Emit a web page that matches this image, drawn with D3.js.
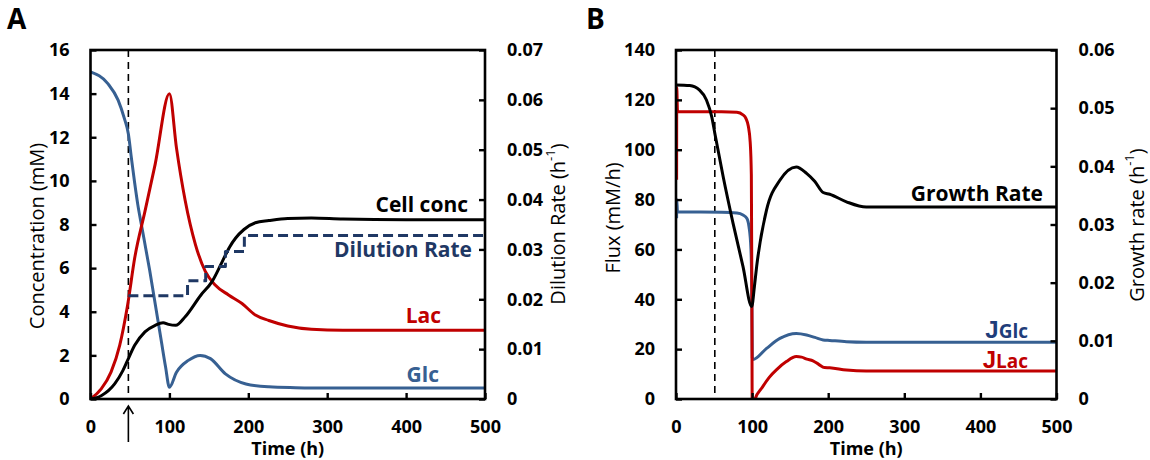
<!DOCTYPE html>
<html><head><meta charset="utf-8">
<script src="https://cdn.jsdelivr.net/npm/d3@7"></script>
<style>
body{margin:0;background:#fff}
svg{display:block}
text{font-family:'Open Sans',sans-serif}
</style>
</head><body>
<svg id="c" width="1150" height="460"></svg>
<script>
// ---------------- data ----------------
const timeTicks = [0, 100, 200, 300, 400, 500];
const concTicks = [0, 2, 4, 6, 8, 10, 12, 14, 16];
const dilTicks = [0, 0.01, 0.02, 0.03, 0.04, 0.05, 0.06, 0.07];
const fluxTicks = [0, 20, 40, 60, 80, 100, 120, 140];
const growthTicks = [0, 0.01, 0.02, 0.03, 0.04, 0.05, 0.06];

// Panel A (concentrations, mM)
const glcT = [0, 22, 35, 43, 48, 52, 56, 60, 65, 70, 75, 80, 85, 90, 95, 100, 109, 124, 139, 152, 171, 197, 226, 260, 300, 400, 500];
const glcV = [15.0, 14.46, 13.7, 12.85, 12.15, 11.0, 9.9, 8.9, 7.9, 6.9, 5.9, 4.8, 3.7, 2.6, 1.5, 0.54, 1.23, 1.77, 2.0, 1.85, 1.15, 0.69, 0.56, 0.52, 0.5, 0.5, 0.5];
const lacT = [0, 13.6, 26, 37, 47, 56, 69, 82, 100, 109, 120, 133, 145.5, 158, 175, 192, 209, 226, 250, 280, 320, 400, 500];
const lacV = [0, 0.46, 1.23, 2.46, 4.3, 6.46, 8.6, 10.77, 14.0, 11.5, 9.1, 7.08, 5.85, 5.23, 4.77, 4.38, 3.85, 3.6, 3.35, 3.2, 3.15, 3.15, 3.15];
const cellT = [0, 13.6, 30.6, 41, 47, 56, 69, 82, 92, 99, 108, 120, 140, 154, 167, 176, 184, 194.5, 209, 226, 250, 280, 320, 400, 500];
const cellV = [0, 0.15, 0.69, 1.3, 1.77, 2.46, 3.08, 3.38, 3.5, 3.42, 3.38, 3.77, 4.77, 5.38, 6.3, 6.95, 7.38, 7.77, 8.08, 8.18, 8.28, 8.3, 8.25, 8.22, 8.22];
// Dilution rate (h^-1), step changes
const dilT = [48, 123, 146, 171, 195, 500];
const dilV = [0.0207, 0.0237, 0.0266, 0.0296, 0.0328, 0.0328];
const feedStartA = 48;

// Panel B (fluxes, mM/h; growth rate h^-1)
const jglcT = [0.8, 1.0, 2.0, 20, 60, 80, 88, 93, 96, 98.5, 99.7, 100.3, 101, 119, 136.5, 158, 171.6, 182.5, 193.4, 202, 224, 250, 300, 500];
const jglcV = [72.5, 80, 75, 75, 74.9, 74.6, 73.8, 72.5, 69, 60, 40, 16.5, 15.8, 20.3, 24.3, 26.3, 25.7, 24.7, 23.7, 23.5, 23.0, 22.8, 22.8, 22.8];
const jlacT = [0.8, 1.0, 2.0, 20, 60, 80, 88, 92, 95, 97.5, 99, 99.7, 100.2, 104, 113, 122, 133, 145, 158, 165, 172, 180, 188, 195, 202, 224, 250, 300, 500];
const jlacV = [88, 125, 115.2, 115.2, 115.2, 115, 114, 112.5, 109.5, 103, 90, 40, -8, 0, 4.5, 8.5, 12.0, 15.0, 17.0, 16.8, 16.0, 15.3, 13.8, 12.6, 12.5, 11.6, 11.2, 11.2, 11.2];
const grT = [0, 18, 31, 40, 47, 51, 62, 75, 88, 99.5, 103, 106, 119, 136.5, 158, 171.6, 182.5, 193.4, 202, 224, 250, 300, 500];
const grV = [0.0540, 0.0539, 0.0531, 0.0514, 0.0485, 0.0457, 0.0382, 0.0302, 0.0228, 0.0159, 0.0193, 0.0228, 0.0325, 0.0376, 0.0399, 0.0388, 0.0374, 0.0355, 0.0352, 0.0339, 0.0330, 0.0330, 0.0330];
const feedStartB = 51;

// ---------------- drawing ----------------
const svg = d3.select("#c");
const TOP = 50, BOT = 399;
const FONT = "'Open Sans', sans-serif";
const cBlue = "#376092", cRed = "#C00000", cNavy = "#1F3864";

function zip(t, v) { return t.map((d, i) => ({t: d, v: v[i]})); }

function panel(o) {
  const x = d3.scaleLinear().domain([0, 500]).range([o.left, o.right]);
  const yL = d3.scaleLinear().domain([0, o.yLmax]).range([BOT, TOP]);
  const yR = d3.scaleLinear().domain([0, o.yRmax]).range([BOT, TOP]);
  const g = svg.append("g");
  const clipId = "clip" + o.id;
  svg.append("clipPath").attr("id", clipId).append("rect")
    .attr("x", o.left).attr("y", TOP).attr("width", o.right - o.left).attr("height", BOT - TOP);
  const plot = g.append("g").attr("clip-path", `url(#${clipId})`);

  plot.append("line").attr("x1", x(o.feed)).attr("x2", x(o.feed)).attr("y1", TOP).attr("y2", BOT)
    .attr("stroke", "#000").attr("stroke-width", 1.6).attr("stroke-dasharray", "7,5");

  const mk = (ys, curve) => d3.line().x(d => x(d.t)).y(d => ys(d.v)).curve(curve || d3.curveMonotoneX);
  o.series.forEach(s => {
    plot.append("path")
      .attr("d", mk(s.axis === "R" ? yR : yL, s.curve)(zip(s.t, s.v)))
      .attr("fill", "none").attr("stroke", s.color).attr("stroke-width", s.w || 3)
      .attr("stroke-dasharray", s.dash || null).attr("stroke-linejoin", "round");
  });

  g.append("rect").attr("x", o.left).attr("y", TOP).attr("width", o.right - o.left).attr("height", BOT - TOP)
    .attr("fill", "none").attr("stroke", "#000").attr("stroke-width", 2.6);

  const style = (sel) => {
    sel.select(".domain").remove();
    sel.attr("font-family", FONT).attr("font-size", 18);
    sel.selectAll("text").attr("font-weight", "bold").attr("fill", "#000");
    sel.selectAll("line").attr("stroke", "#000").attr("stroke-width", 2.4);
  };
  g.append("g").attr("transform", `translate(${o.left},0)`)
    .call(d3.axisLeft(yL).tickValues(o.lTicks).tickSize(-6).tickSizeOuter(0).tickPadding(21).tickFormat(d3.format("d")))
    .call(style);
  g.append("g").attr("transform", `translate(${o.right},0)`)
    .call(d3.axisRight(yR).tickValues(o.rTicks).tickSize(-6).tickSizeOuter(0).tickPadding(22)
      .tickFormat(d => d === 0 ? "0" : d.toFixed(2)))
    .call(style);
  g.append("g").attr("transform", `translate(0,${BOT})`)
    .call(d3.axisBottom(x).tickValues(timeTicks).tickSize(-6).tickSizeOuter(0).tickPadding(21).tickFormat(d3.format("d")))
    .call(style);

  g.append("text").attr("x", (o.left + o.right) / 2).attr("y", 455).attr("text-anchor", "middle")
    .attr("font-size", 18).attr("font-weight", "bold").text("Time (h)");
  g.append("text").attr("transform", `translate(${o.lTitleX},${o.lTitleY}) rotate(-90)`)
    .attr("text-anchor", "middle").attr("dominant-baseline", "central").attr("font-size", 20).text(o.lTitle);
  const rt = g.append("text").attr("transform", `translate(${o.rTitleX},${o.rTitleY}) rotate(-90)`)
    .attr("text-anchor", "middle").attr("dominant-baseline", "central").attr("font-size", 20);
  rt.append("tspan").text(o.rTitle + " (h");
  rt.append("tspan").attr("font-size", 13).attr("dy", -7).text("-1");
  rt.append("tspan").attr("dy", 7).text(")");

  g.append("text").attr("x", o.letterX).attr("y", 29).attr("font-family", "'Liberation Sans', Arial, sans-serif")
    .attr("font-weight", "bold").attr("font-size", 28).text(o.letter);
  return {x, yL, yR, g};
}

// Panel A
const A = panel({
  id: "A", left: 90.5, right: 485, yLmax: 16, yRmax: 0.07, lTicks: concTicks, rTicks: dilTicks,
  feed: feedStartA, letter: "A", letterX: 7,
  lTitle: "Concentration (mM)", lTitleX: 36, lTitleY: 236,
  rTitle: "Dilution Rate", rTitleX: 557, rTitleY: 224,
  series: [
    {t: glcT, v: glcV, color: cBlue},
    {t: lacT, v: lacV, color: cRed},
    {t: cellT, v: cellV, color: "#000"},
    {t: dilT, v: dilV, color: cNavy, axis: "R", curve: d3.curveStepAfter, dash: "10,5"}
  ]
});
{
  const ax = A.x(feedStartA);
  A.g.append("path").attr("d", `M${ax},442 L${ax},406 M${ax - 5},414 L${ax},406 L${ax + 5},414`)
    .attr("fill", "none").attr("stroke", "#000").attr("stroke-width", 1.6);
  const lab = (txt, xr, y, col) => A.g.append("text").attr("x", xr).attr("y", y).attr("text-anchor", "end")
    .attr("font-size", 21).attr("font-weight", "bold").attr("fill", col).text(txt);
  lab("Cell conc", 468, 212, "#000");
  lab("Dilution Rate", 472, 257, cNavy);
  lab("Lac", 441, 322.5, cRed);
  lab("Glc", 439, 381.5, cBlue);
}

// Panel B
const B = panel({
  id: "B", left: 676, right: 1056.5, yLmax: 140, yRmax: 0.06, lTicks: fluxTicks, rTicks: growthTicks,
  feed: feedStartB, letter: "B", letterX: 586,
  lTitle: "Flux (mM/h)", lTitleX: 612, lTitleY: 218,
  rTitle: "Growth rate", rTitleX: 1136, rTitleY: 225,
  series: [
    {t: jglcT, v: jglcV, color: cBlue},
    {t: jlacT, v: jlacV, color: cRed},
    {t: grT, v: grV, color: "#000", axis: "R"}
  ]
});
{
  B.g.append("text").attr("x", 1043).attr("y", 201).attr("text-anchor", "end")
    .attr("font-size", 21).attr("font-weight", "bold").text("Growth Rate");
  const jl = (sub, y, col) => {
    const t = B.g.append("text").attr("x", 1028).attr("y", y).attr("text-anchor", "end")
      .attr("font-weight", "bold").attr("fill", col);
    t.append("tspan").attr("font-family", "'Liberation Sans', Arial, sans-serif").attr("font-size", 24).text("J");
    t.append("tspan").attr("font-size", 19).text(sub);
  };
  jl("Glc", 338, "#1F3D7A");
  jl("Lac", 368, cRed);
}
</script>
</body></html>
